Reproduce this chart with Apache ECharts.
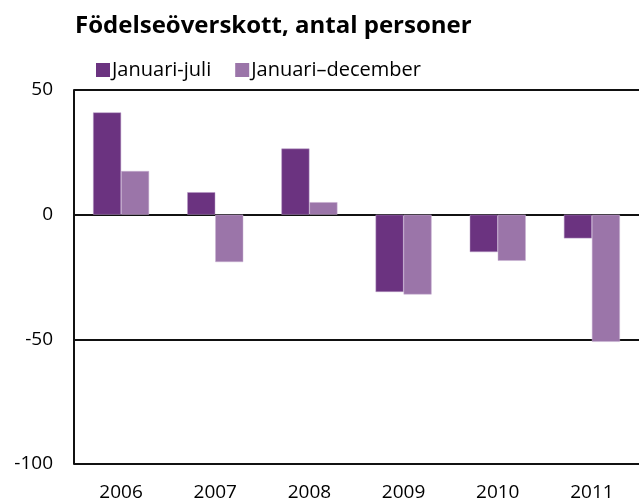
<!DOCTYPE html>
<html>
<head>
<meta charset="utf-8">
<script src="https://cdn.jsdelivr.net/npm/echarts@6/dist/echarts.min.js"></script>
<style>
  html, body { margin: 0; padding: 0; background: #fff; }
  #main { width: 639px; height: 504px; }
</style>
</head>
<body>
<div id="main"></div>
<script>
// data
var years = ['2006', '2007', '2008', '2009', '2010', '2011'];
var janJul = [41, 9, 26.5, -31, -15, -9.5];
var janDec = [17.5, -19, 5, -32, -18.5, -51];
var seriesNames = ['Januari-juli', 'Januari\u2013december'];

var font = '"Open Sans", Lato, sans-serif';
var myChart = echarts.init(document.getElementById('main'), null, { renderer: 'canvas' });

var option = {
  animation: false,
  backgroundColor: '#fff',
  title: {
    text: 'Födelseöverskott, antal personer',
    left: 70,
    top: 9,
    textStyle: { fontFamily: font, fontWeight: 'bold', fontSize: 24, color: '#000' }
  },
  legend: {
    left: 91,
    top: 55,
    itemWidth: 14,
    itemHeight: 14,
    itemGap: 24,
    icon: 'rect',
    itemStyle: { borderWidth: 0 },
    textStyle: { fontFamily: font, fontSize: 20, color: '#000', padding: [0, 0, 0, -3] },
    data: seriesNames
  },
  grid: { left: 74, top: 90, width: 567, bottom: 40, containLabel: false },
  xAxis: {
    type: 'category',
    data: years,
    axisLine: { show: false },
    axisTick: { show: false },
    axisLabel: { fontFamily: font, fontSize: 19, color: '#000', margin: 19 }
  },
  yAxis: {
    type: 'value',
    min: -100,
    max: 50,
    interval: 50,
    axisLine: { show: true, lineStyle: { color: '#111', width: 2 } },
    axisTick: { show: false },
    axisLabel: { fontFamily: font, fontSize: 19, color: '#000', margin: 21 },
    splitLine: { show: true, lineStyle: { color: '#111', width: 2 } }
  },
  series: [
    {
      name: seriesNames[0],
      type: 'bar',
      data: janJul,
      barWidth: 28,
      barGap: '0%',
      itemStyle: { color: '#6b3380', borderColor: '#b99cc6', borderWidth: 0.5 }
    },
    {
      name: seriesNames[1],
      type: 'bar',
      data: janDec,
      barWidth: 28,
      itemStyle: { color: '#9b75a9', borderColor: '#c9b3d3', borderWidth: 0.5 }
    }
  ]
};

myChart.setOption(option);
window.addEventListener('resize', myChart.resize);
</script>
</body>
</html>
